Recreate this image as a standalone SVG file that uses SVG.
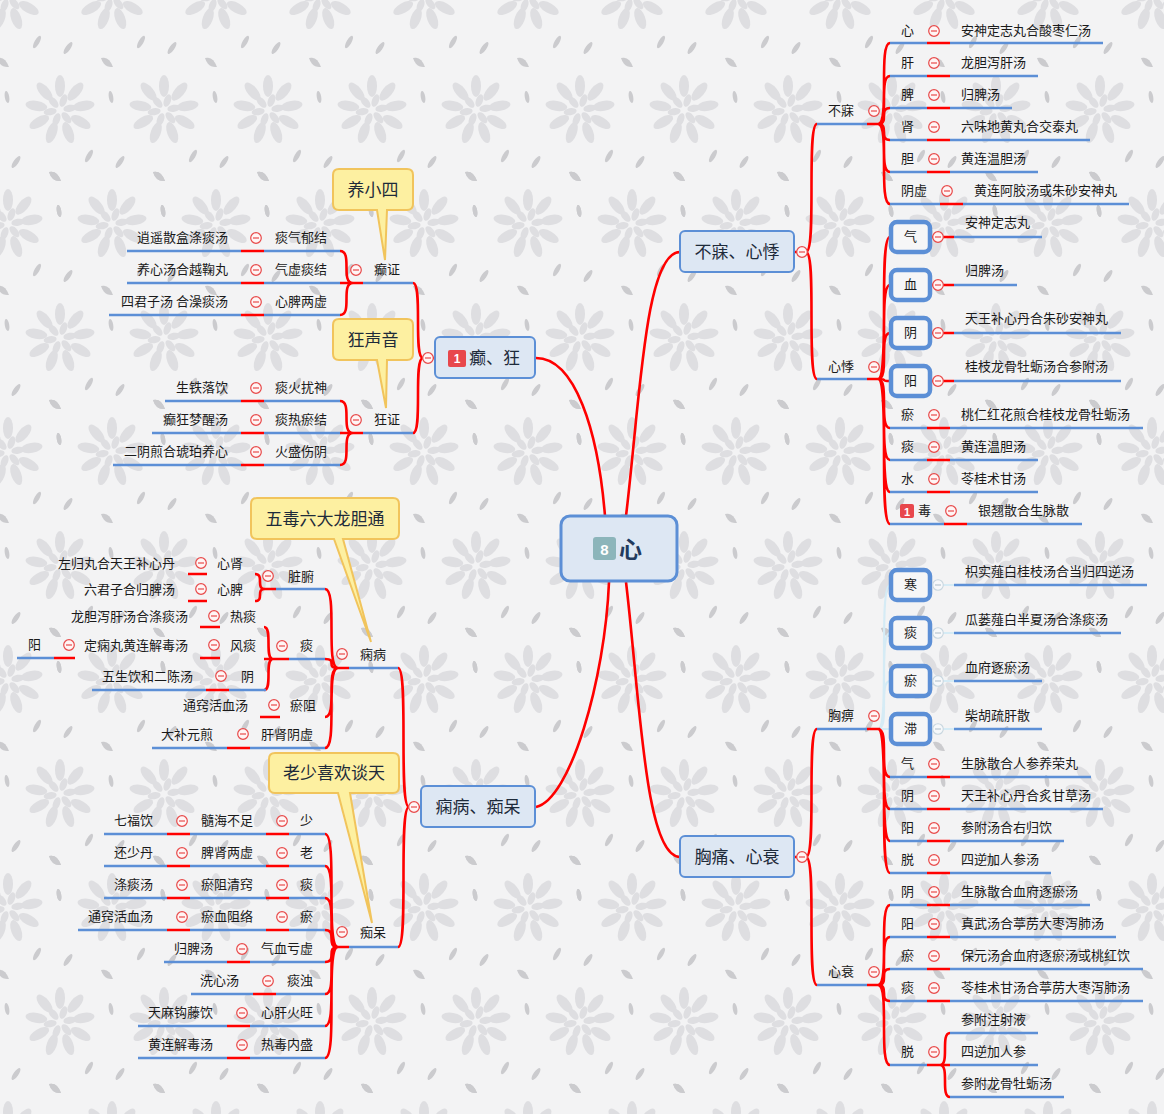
<svg xmlns="http://www.w3.org/2000/svg" width="1164" height="1114" viewBox="0 0 1164 1114">
<defs>
<style>
.t{font-family:"Noto Sans CJK SC","Noto Sans",sans-serif;font-size:13px;fill:#1a1a1a;dominant-baseline:central;transform:translateY(-1.5px)}
.e{text-anchor:end}
.m{text-anchor:middle}
.b{font-size:17px;fill:#1e2b3a}
.u{stroke:#5c8fd6;stroke-width:2.6;fill:none}
.r{stroke:#ff0000;stroke-width:2.6;fill:none}
.p{stroke:#d5ebf5;stroke-width:2.2;fill:none}
.box{fill:#dde7f3;stroke:#5c8fd6;stroke-width:2}
.sq{fill:#f6f6f7;stroke:#5c8fd6;stroke-width:4.5}
.co{fill:#fdf0a1;stroke:#f1c45c;stroke-width:2}
.bd{font-family:"Liberation Sans",sans-serif;font-weight:bold;fill:#fff;text-anchor:middle;dominant-baseline:central}
</style>
<g id="m"><circle r="5.3" fill="#fff5f5" stroke="#e84a4a" stroke-width="1.2"/><line x1="-3" x2="3" stroke="#e84a4a" stroke-width="1.2"/></g>
<g id="mp"><circle r="5.3" fill="#f6f8fa" stroke="#c8d6df" stroke-width="1.1"/><line x1="-3" x2="3" stroke="#b3c2cc" stroke-width="1.1"/></g>
<g id="fl" fill="#dedee1">
<ellipse cx="0" cy="-24" rx="5" ry="11"/>
<ellipse cx="0" cy="-24" rx="5" ry="11" transform="rotate(40)"/>
<ellipse cx="0" cy="-24" rx="5" ry="11" transform="rotate(80)"/>
<ellipse cx="0" cy="-24" rx="5" ry="11" transform="rotate(120)"/>
<ellipse cx="0" cy="-24" rx="5" ry="11" transform="rotate(160)"/>
<ellipse cx="0" cy="-24" rx="5" ry="11" transform="rotate(200)"/>
<ellipse cx="0" cy="-24" rx="5" ry="11" transform="rotate(240)"/>
<ellipse cx="0" cy="-24" rx="5" ry="11" transform="rotate(280)"/>
<ellipse cx="0" cy="-24" rx="5" ry="11" transform="rotate(320)"/>
<ellipse cx="0" cy="-10" rx="3.5" ry="6.5" transform="rotate(20)"/>
<ellipse cx="0" cy="-10" rx="3.5" ry="6.5" transform="rotate(80)"/>
<ellipse cx="0" cy="-10" rx="3.5" ry="6.5" transform="rotate(140)"/>
<ellipse cx="0" cy="-10" rx="3.5" ry="6.5" transform="rotate(200)"/>
<ellipse cx="0" cy="-10" rx="3.5" ry="6.5" transform="rotate(260)"/>
<ellipse cx="0" cy="-10" rx="3.5" ry="6.5" transform="rotate(320)"/>
</g>
<g id="lv" fill="#cbcbce">
<ellipse cx="37" cy="42" rx="2.4" ry="7" transform="rotate(30 37 42)"/>
<ellipse cx="68" cy="48" rx="2.4" ry="7" transform="rotate(35 68 48)"/>
<path d="M-3,58 Q5,56 9,67 Q0,68 -3,58Z"/>
<path d="M101,58 Q109,56 113,67 Q104,68 101,58Z"/>
<ellipse cx="7" cy="97" rx="2.2" ry="6" transform="rotate(-10 7 97)"/>
<ellipse cx="111" cy="97" rx="2.2" ry="6" transform="rotate(-10 111 97)"/>
</g>
<pattern id="bg" width="104" height="228" patternUnits="userSpaceOnUse">
<rect width="104" height="228" fill="#f3f3f4"/>
<use href="#fl" x="60" y="110"/>
<use href="#fl" x="8" y="-4"/><use href="#fl" x="112" y="-4"/>
<use href="#fl" x="8" y="224"/><use href="#fl" x="112" y="224"/>
<use href="#fl" x="-44" y="110"/>
<use href="#lv"/>
<use href="#lv" x="52" y="114"/>
<use href="#lv" x="-52" y="114"/>
</pattern>
</defs>
<rect width="1164" height="1114" fill="url(#bg)"/>

<g id="connectors">
<path class="r" d="M536,358 C575,358 598,430 605,516"/>
<path class="r" d="M626,516 C640,400 645,252 680,252"/>
<path class="r" d="M626,582 C640,700 645,857 680,857"/>
<path class="r" d="M609,582 C605,680 570,800 536,807"/>
<path class="r" d="M794,252 H807 M806,252 C817,252 806,124 817,124 M806,252 C817,252 806,379 817,379"/>
<path class="r" d="M867,124 H880 M878,124 C890,124 878,43 890,43 M878,124 C890,124 878,76 890,76 M878,124 C890,124 878,108 890,108 M878,124 C890,124 878,140 890,140 M878,124 C890,124 878,172 890,172 M878,124 C890,124 878,204 890,204"/>
<path class="r" d="M927,43 H950 M927,76 H950 M927,108 H950 M927,140 H950 M927,172 H950 M940,204 H963"/>
<path class="r" d="M867,379 H880 M878,379 C890,379 878,237 890,237 M878,379 C890,379 878,285 890,285 M878,379 C890,379 878,333 890,333 M878,379 C890,379 878,381 890,381 M878,379 C890,379 878,428 890,428 M878,379 C890,379 878,460 890,460 M878,379 C890,379 878,492 890,492 M878,379 C890,379 878,524 890,524"/>
<path class="r" d="M931,237 H954 M931,285 H954 M931,333 H954 M931,381 H954 M927,428 H950 M927,460 H950 M927,492 H950 M944,524 H967"/>
<path class="r" d="M794,857 H807 M806,857 C817,857 806,729 817,729 M806,857 C817,857 806,985 817,985"/>
<path class="p" d="M878,729 C890,729 878,585 890,585 M878,729 C890,729 878,633 890,633 M878,729 C890,729 878,681 890,681 M878,729 H890 M931,585 H954 M931,633 H954 M931,681 H954 M931,729 H954"/>
<path class="r" d="M867,729 H880 M878,729 C890,729 878,777 890,777 M878,729 C890,729 878,809 890,809 M878,729 C890,729 878,841 890,841 M878,729 C890,729 878,873 890,873"/>
<path class="r" d="M927,777 H950 M927,809 H950 M927,841 H950 M927,873 H950"/>
<path class="r" d="M867,985 H880 M878,985 C890,985 878,905 890,905 M878,985 C890,985 878,937 890,937 M878,985 C890,985 878,969 890,969 M878,985 C890,985 878,1001 890,1001 M878,985 C890,985 878,1065 890,1065"/>
<path class="r" d="M927,905 H950 M927,937 H950 M927,969 H950 M927,1001 H950 M927,1065 H942 M940,1065 C950,1065 940,1033 950,1033 M940,1065 H950 M940,1065 C950,1065 940,1097 950,1097"/>
<path class="r" d="M435,358 H422 M423,358 C413,358 423,283 413,283 M423,358 C413,358 423,433 413,433"/>
<path class="r" d="M363,283 H352 M353,283 C340,283 353,251 340,251 M353,283 H340 M353,283 C340,283 353,315 340,315"/>
<path class="r" d="M363,433 H352 M353,433 C340,433 353,401 340,401 M353,433 H340 M353,433 C340,433 353,465 340,465"/>
<path class="r" d="M264,251 H241 M264,283 H241 M264,315 H241 M264,401 H241 M264,433 H241 M264,465 H241"/>
<path class="r" d="M421,807 H408 M409,807 C398,807 409,668 398,668 M409,807 C398,807 409,947 398,947"/>
<path class="r" d="M349,668 H337 M338,668 C325,668 338,589 325,589 M338,668 C325,668 338,659 325,659 M338,668 C325,668 338,717 325,717 M338,668 C325,668 338,748 325,748"/>
<path class="r" d="M276,589 H264 M265,589 C255,589 265,574 255,574 M265,589 C255,589 265,601 255,601 M207,574 H188 M207,601 H188"/>
<path class="r" d="M289,659 H272 M273,659 C264,659 273,627 264,627 M273,659 H264 M273,659 C264,659 273,690 264,690 M220,627 H200 M220,658 H200 M75,658 H54 M229,690 H206 M280,717 H260 M250,748 H227"/>
<path class="r" d="M349,947 H337 M338,947 C325,947 338,834 325,834 M338,947 C325,947 338,866 325,866 M338,947 C325,947 338,898 325,898 M338,947 C325,947 338,930 325,930 M338,947 C325,947 338,962 325,962 M338,947 C325,947 338,994 325,994 M338,947 C325,947 338,1026 325,1026 M338,947 C325,947 338,1058 325,1058"/>
<path class="r" d="M289,834 H266 M190,834 H167 M289,866 H266 M190,866 H167 M289,898 H266 M190,898 H167 M289,930 H266 M190,930 H167 M250,962 H227 M276,994 H253 M250,1026 H227 M250,1058 H227"/>
</g>

<g id="center">
<rect x="561" y="516" width="116" height="65" rx="9" fill="#dde7f3" stroke="#5c8fd6" stroke-width="3"/>
<rect x="593" y="537" width="23" height="23" rx="3" fill="#8cb5ba"/>
<text class="bd" x="604.5" y="549" font-size="15">8</text>
<text class="t" x="619" y="549" font-weight="bold" style="font-size:23px;fill:#223a5e">心</text>
</g>

<g id="n-bumei-xinji">
<rect class="box" x="680" y="231" width="114" height="41" rx="5"/>
<text class="t b m" x="737" y="252">不寐、心悸</text>
<use href="#m" x="802" y="252"/>
</g>
<g id="n-xiongtong-xinshuai">
<rect class="box" x="680" y="836" width="114" height="41" rx="5"/>
<text class="t b m" x="737" y="857">胸痛、心衰</text>
<use href="#m" x="802" y="857"/>
</g>
<g id="n-diankuang">
<rect class="box" x="435" y="337" width="100" height="41" rx="5"/>
<rect x="448" y="350" width="18" height="17" rx="2" fill="#e8474c"/>
<text class="bd" x="457" y="358.5" font-size="12">1</text>
<text class="t b" x="469" y="358">癫、狂</text>
<use href="#m" x="428" y="358"/>
</g>
<g id="n-xianbing-chidai">
<rect class="box" x="421" y="786" width="114" height="41" rx="5"/>
<text class="t b m" x="478" y="807">痫病、痴呆</text>
<use href="#m" x="414" y="807"/>
</g>

<g id="n-bumei">
<text class="t" x="828" y="111">不寐</text>
<line class="u" x1="817" y1="124" x2="867" y2="124"/>
<use href="#m" x="874" y="111"/>
</g>
<g id="n-bumei-rows">
<text class="t" x="901" y="31">心</text><line class="u" x1="890" y1="43" x2="927" y2="43"/><use href="#m" x="934" y="31"/>
<text class="t" x="961" y="31">安神定志丸合酸枣仁汤</text><line class="u" x1="950" y1="43" x2="1103" y2="43"/>
<text class="t" x="901" y="63">肝</text><line class="u" x1="890" y1="76" x2="927" y2="76"/><use href="#m" x="934" y="63"/>
<text class="t" x="961" y="63">龙胆泻肝汤</text><line class="u" x1="950" y1="76" x2="1038" y2="76"/>
<text class="t" x="901" y="95">脾</text><line class="u" x1="890" y1="108" x2="927" y2="108"/><use href="#m" x="934" y="95"/>
<text class="t" x="961" y="95">归脾汤</text><line class="u" x1="950" y1="108" x2="1012" y2="108"/>
<text class="t" x="901" y="127">肾</text><line class="u" x1="890" y1="140" x2="927" y2="140"/><use href="#m" x="934" y="127"/>
<text class="t" x="961" y="127">六味地黄丸合交泰丸</text><line class="u" x1="950" y1="140" x2="1090" y2="140"/>
<text class="t" x="901" y="159">胆</text><line class="u" x1="890" y1="172" x2="927" y2="172"/><use href="#m" x="934" y="159"/>
<text class="t" x="961" y="159">黄连温胆汤</text><line class="u" x1="950" y1="172" x2="1038" y2="172"/>
<text class="t" x="901" y="191">阴虚</text><line class="u" x1="890" y1="204" x2="940" y2="204"/><use href="#m" x="947" y="191"/>
<text class="t" x="974" y="191">黄连阿胶汤或朱砂安神丸</text><line class="u" x1="963" y1="204" x2="1129" y2="204"/>
</g>

<g id="n-xinji">
<text class="t" x="828" y="367">心悸</text>
<line class="u" x1="817" y1="379" x2="867" y2="379"/>
<use href="#m" x="874" y="367"/>
</g>
<g id="n-xinji-rows">
<rect class="sq" x="891" y="222" width="39" height="30" rx="6"/><text class="t m" x="910.5" y="237">气</text><use href="#m" x="938" y="237"/>
<text class="t" x="965" y="223">安神定志丸</text><line class="u" x1="954" y1="237" x2="1042" y2="237"/>
<rect class="sq" x="891" y="270" width="39" height="30" rx="6"/><text class="t m" x="910.5" y="285">血</text><use href="#m" x="938" y="285"/>
<text class="t" x="965" y="271">归脾汤</text><line class="u" x1="954" y1="285" x2="1017" y2="285"/>
<rect class="sq" x="891" y="318" width="39" height="30" rx="6"/><text class="t m" x="910.5" y="333">阴</text><use href="#m" x="938" y="333"/>
<text class="t" x="965" y="319">天王补心丹合朱砂安神丸</text><line class="u" x1="954" y1="333" x2="1121" y2="333"/>
<rect class="sq" x="891" y="366" width="39" height="30" rx="6"/><text class="t m" x="910.5" y="381">阳</text><use href="#m" x="938" y="381"/>
<text class="t" x="965" y="367">桂枝龙骨牡蛎汤合参附汤</text><line class="u" x1="954" y1="381" x2="1121" y2="381"/>
<text class="t" x="901" y="415">瘀</text><line class="u" x1="890" y1="428" x2="927" y2="428"/><use href="#m" x="934" y="415"/>
<text class="t" x="961" y="415">桃仁红花煎合桂枝龙骨牡蛎汤</text><line class="u" x1="950" y1="428" x2="1143" y2="428"/>
<text class="t" x="901" y="447">痰</text><line class="u" x1="890" y1="460" x2="927" y2="460"/><use href="#m" x="934" y="447"/>
<text class="t" x="961" y="447">黄连温胆汤</text><line class="u" x1="950" y1="460" x2="1038" y2="460"/>
<text class="t" x="901" y="479">水</text><line class="u" x1="890" y1="492" x2="927" y2="492"/><use href="#m" x="934" y="479"/>
<text class="t" x="961" y="479">苓桂术甘汤</text><line class="u" x1="950" y1="492" x2="1038" y2="492"/>
<rect x="900" y="504" width="14" height="14" rx="2" fill="#e8474c"/><text class="bd" x="907" y="511.5" font-size="11">1</text>
<text class="t" x="918" y="511">毒</text><line class="u" x1="890" y1="524" x2="944" y2="524"/><use href="#m" x="951" y="511"/>
<text class="t" x="978" y="511">银翘散合生脉散</text><line class="u" x1="967" y1="524" x2="1082" y2="524"/>
</g>

<g id="n-xiongbi">
<text class="t" x="828" y="716">胸痹</text>
<line class="u" x1="817" y1="729" x2="867" y2="729"/>
<use href="#m" x="874" y="716"/>
</g>
<g id="n-xiongbi-rows">
<rect class="sq" x="891" y="570" width="39" height="30" rx="6"/><text class="t m" x="910.5" y="585">寒</text><use href="#mp" x="938" y="585"/>
<text class="t" x="965" y="572">枳实薤白桂枝汤合当归四逆汤</text><line class="u" x1="954" y1="585" x2="1147" y2="585"/>
<rect class="sq" x="891" y="618" width="39" height="30" rx="6"/><text class="t m" x="910.5" y="633">痰</text><use href="#mp" x="938" y="633"/>
<text class="t" x="965" y="620">瓜蒌薤白半夏汤合涤痰汤</text><line class="u" x1="954" y1="633" x2="1121" y2="633"/>
<rect class="sq" x="891" y="666" width="39" height="30" rx="6"/><text class="t m" x="910.5" y="681">瘀</text><use href="#mp" x="938" y="681"/>
<text class="t" x="965" y="668">血府逐瘀汤</text><line class="u" x1="954" y1="681" x2="1042" y2="681"/>
<rect class="sq" x="891" y="714" width="39" height="30" rx="6"/><text class="t m" x="910.5" y="729">滞</text><use href="#mp" x="938" y="729"/>
<text class="t" x="965" y="716">柴胡疏肝散</text><line class="u" x1="954" y1="729" x2="1042" y2="729"/>
<text class="t" x="901" y="764">气</text><line class="u" x1="890" y1="777" x2="927" y2="777"/><use href="#m" x="934" y="764"/>
<text class="t" x="961" y="764">生脉散合人参养荣丸</text><line class="u" x1="950" y1="777" x2="1091" y2="777"/>
<text class="t" x="901" y="796">阴</text><line class="u" x1="890" y1="809" x2="927" y2="809"/><use href="#m" x="934" y="796"/>
<text class="t" x="961" y="796">天王补心丹合炙甘草汤</text><line class="u" x1="950" y1="809" x2="1103" y2="809"/>
<text class="t" x="901" y="828">阳</text><line class="u" x1="890" y1="841" x2="927" y2="841"/><use href="#m" x="934" y="828"/>
<text class="t" x="961" y="828">参附汤合右归饮</text><line class="u" x1="950" y1="841" x2="1064" y2="841"/>
<text class="t" x="901" y="860">脱</text><line class="u" x1="890" y1="873" x2="927" y2="873"/><use href="#m" x="934" y="860"/>
<text class="t" x="961" y="860">四逆加人参汤</text><line class="u" x1="950" y1="873" x2="1051" y2="873"/>
</g>

<g id="n-xinshuai">
<text class="t" x="828" y="972">心衰</text>
<line class="u" x1="817" y1="985" x2="867" y2="985"/>
<use href="#m" x="874" y="972"/>
</g>
<g id="n-xinshuai-rows">
<text class="t" x="901" y="892">阴</text><line class="u" x1="890" y1="905" x2="927" y2="905"/><use href="#m" x="934" y="892"/>
<text class="t" x="961" y="892">生脉散合血府逐瘀汤</text><line class="u" x1="950" y1="905" x2="1090" y2="905"/>
<text class="t" x="901" y="924">阳</text><line class="u" x1="890" y1="937" x2="927" y2="937"/><use href="#m" x="934" y="924"/>
<text class="t" x="961" y="924">真武汤合葶苈大枣泻肺汤</text><line class="u" x1="950" y1="937" x2="1116" y2="937"/>
<text class="t" x="901" y="956">瘀</text><line class="u" x1="890" y1="969" x2="927" y2="969"/><use href="#m" x="934" y="956"/>
<text class="t" x="961" y="956">保元汤合血府逐瘀汤或桃红饮</text><line class="u" x1="950" y1="969" x2="1143" y2="969"/>
<text class="t" x="901" y="988">痰</text><line class="u" x1="890" y1="1001" x2="927" y2="1001"/><use href="#m" x="934" y="988"/>
<text class="t" x="961" y="988">苓桂术甘汤合葶苈大枣泻肺汤</text><line class="u" x1="950" y1="1001" x2="1143" y2="1001"/>
<text class="t" x="901" y="1052">脱</text><line class="u" x1="890" y1="1065" x2="927" y2="1065"/><use href="#m" x="934" y="1052"/>
<text class="t" x="961" y="1020">参附注射液</text><line class="u" x1="950" y1="1033" x2="1038" y2="1033"/>
<text class="t" x="961" y="1052">四逆加人参</text><line class="u" x1="950" y1="1065" x2="1038" y2="1065"/>
<text class="t" x="961" y="1084">参附龙骨牡蛎汤</text><line class="u" x1="950" y1="1097" x2="1064" y2="1097"/>
</g>

<g id="n-dianzheng">
<text class="t" x="374" y="270">癫证</text>
<line class="u" x1="363" y1="283" x2="413" y2="283"/>
<use href="#m" x="356" y="270"/>
</g>
<g id="n-dianzheng-rows">
<text class="t" x="275" y="238">痰气郁结</text><line class="u" x1="264" y1="251" x2="340" y2="251"/><use href="#m" x="256" y="238"/>
<text class="t e" x="228" y="238">逍遥散盒涤痰汤</text><line class="u" x1="127" y1="251" x2="241" y2="251"/>
<text class="t" x="275" y="270">气虚痰结</text><line class="u" x1="264" y1="283" x2="340" y2="283"/><use href="#m" x="256" y="270"/>
<text class="t e" x="228" y="270">养心汤合越鞠丸</text><line class="u" x1="127" y1="283" x2="241" y2="283"/>
<text class="t" x="275" y="302">心脾两虚</text><line class="u" x1="264" y1="315" x2="340" y2="315"/><use href="#m" x="256" y="302"/>
<text class="t e" x="228" y="302">四君子汤 合澡痰汤</text><line class="u" x1="109" y1="315" x2="241" y2="315"/>
</g>
<g id="n-kuangzheng">
<text class="t" x="374" y="420">狂证</text>
<line class="u" x1="363" y1="433" x2="413" y2="433"/>
<use href="#m" x="356" y="420"/>
</g>
<g id="n-kuangzheng-rows">
<text class="t" x="275" y="388">痰火扰神</text><line class="u" x1="264" y1="401" x2="340" y2="401"/><use href="#m" x="256" y="388"/>
<text class="t e" x="228" y="388">生铁落饮</text><line class="u" x1="165" y1="401" x2="241" y2="401"/>
<text class="t" x="275" y="420">痰热瘀结</text><line class="u" x1="264" y1="433" x2="340" y2="433"/><use href="#m" x="256" y="420"/>
<text class="t e" x="228" y="420">癫狂梦醒汤</text><line class="u" x1="152" y1="433" x2="241" y2="433"/>
<text class="t" x="275" y="452">火盛伤阴</text><line class="u" x1="264" y1="465" x2="340" y2="465"/><use href="#m" x="256" y="452"/>
<text class="t e" x="228" y="452">二阴煎合琥珀养心</text><line class="u" x1="113" y1="465" x2="241" y2="465"/>
</g>

<g id="n-xianbing">
<text class="t" x="360" y="655">痫病</text>
<line class="u" x1="349" y1="668" x2="398" y2="668"/>
<use href="#m" x="342" y="654"/>
</g>
<g id="n-zangfu">
<text class="t" x="288" y="577">脏腑</text><line class="u" x1="276" y1="589" x2="325" y2="589"/><use href="#m" x="268" y="576"/>
<text class="t" x="217" y="564">心肾</text><use href="#m" x="201" y="563"/>
<text class="t e" x="175" y="564">左归丸合天王补心丹</text>
<text class="t" x="217" y="590">心脾</text><use href="#m" x="201" y="589"/>
<text class="t e" x="175" y="590">六君子合归脾汤</text>
</g>
<g id="n-tan">
<text class="t" x="300" y="646">痰</text><line class="u" x1="289" y1="659" x2="325" y2="659"/><use href="#m" x="282" y="646"/>
<text class="t" x="230" y="617">热痰</text><use href="#m" x="214" y="616"/>
<text class="t e" x="188" y="617">龙胆泻肝汤合涤痰汤</text>
<text class="t" x="230" y="646">风痰</text><use href="#m" x="214" y="645"/>
<text class="t e" x="188" y="646">定痫丸黄连解毒汤</text><use href="#m" x="69" y="645"/>
<text class="t" x="28" y="645">阳</text><line class="u" x1="17" y1="658" x2="54" y2="658"/>
<text class="t" x="241" y="677">阴</text><line class="u" x1="229" y1="690" x2="266" y2="690"/><use href="#m" x="221" y="676"/>
<text class="t e" x="193" y="677">五生饮和二陈汤</text><line class="u" x1="92" y1="690" x2="206" y2="690"/>
</g>
<g id="n-yuzu">
<text class="t" x="290" y="706">瘀阻</text><use href="#m" x="274" y="705"/>
<text class="t e" x="248" y="706">通窍活血汤</text>
</g>
<g id="n-ganshen">
<text class="t" x="261" y="735">肝肾阴虚</text><line class="u" x1="250" y1="748" x2="325" y2="748"/><use href="#m" x="243" y="734"/>
<text class="t e" x="213" y="735">大补元煎</text><line class="u" x1="152" y1="748" x2="227" y2="748"/>
</g>

<g id="n-chidai">
<text class="t" x="360" y="933">痴呆</text>
<line class="u" x1="349" y1="947" x2="398" y2="947"/>
<use href="#m" x="342" y="932"/>
</g>
<g id="n-chidai-rows">
<text class="t" x="300" y="821">少</text><line class="u" x1="289" y1="834" x2="325" y2="834"/><use href="#m" x="282" y="821"/>
<text class="t" x="201" y="821">髓海不足</text><line class="u" x1="190" y1="834" x2="266" y2="834"/><use href="#m" x="182" y="821"/>
<text class="t e" x="153" y="821">七福饮</text><line class="u" x1="104" y1="834" x2="167" y2="834"/>
<text class="t" x="300" y="853">老</text><line class="u" x1="289" y1="866" x2="325" y2="866"/><use href="#m" x="282" y="853"/>
<text class="t" x="201" y="853">脾肾两虚</text><line class="u" x1="190" y1="866" x2="266" y2="866"/><use href="#m" x="182" y="853"/>
<text class="t e" x="153" y="853">还少丹</text><line class="u" x1="104" y1="866" x2="167" y2="866"/>
<text class="t" x="300" y="885">痰</text><line class="u" x1="289" y1="898" x2="325" y2="898"/><use href="#m" x="282" y="885"/>
<text class="t" x="201" y="885">瘀阻清窍</text><line class="u" x1="190" y1="898" x2="266" y2="898"/><use href="#m" x="182" y="885"/>
<text class="t e" x="153" y="885">涤痰汤</text><line class="u" x1="104" y1="898" x2="167" y2="898"/>
<text class="t" x="300" y="917">瘀</text><line class="u" x1="289" y1="930" x2="325" y2="930"/><use href="#m" x="282" y="917"/>
<text class="t" x="201" y="917">瘀血阻络</text><line class="u" x1="190" y1="930" x2="266" y2="930"/><use href="#m" x="182" y="917"/>
<text class="t e" x="153" y="917">通窍活血汤</text><line class="u" x1="78" y1="930" x2="167" y2="930"/>
<text class="t" x="261" y="949">气血亏虚</text><line class="u" x1="250" y1="962" x2="325" y2="962"/><use href="#m" x="242" y="949"/>
<text class="t e" x="213" y="949">归脾汤</text><line class="u" x1="164" y1="962" x2="227" y2="962"/>
<text class="t" x="287" y="981">痰浊</text><line class="u" x1="276" y1="994" x2="325" y2="994"/><use href="#m" x="268" y="981"/>
<text class="t e" x="239" y="981">洗心汤</text><line class="u" x1="191" y1="994" x2="253" y2="994"/>
<text class="t" x="261" y="1013">心肝火旺</text><line class="u" x1="250" y1="1026" x2="325" y2="1026"/><use href="#m" x="242" y="1013"/>
<text class="t e" x="213" y="1013">天麻钩藤饮</text><line class="u" x1="138" y1="1026" x2="227" y2="1026"/>
<text class="t" x="261" y="1045">热毒内盛</text><line class="u" x1="250" y1="1058" x2="325" y2="1058"/><use href="#m" x="242" y="1045"/>
<text class="t e" x="213" y="1045">黄连解毒汤</text><line class="u" x1="138" y1="1058" x2="227" y2="1058"/>
</g>

<g id="callout-1">
<path class="co" d="M339,169 H407 Q413,169 413,175 V204 Q413,210 407,210 H387 L385,260 L377,210 H339 Q333,210 333,204 V175 Q333,169 339,169 Z"/>
<text class="t b m" x="373" y="190">养小四</text>
</g>
<g id="callout-2">
<path class="co" d="M339,319 H407 Q413,319 413,325 V354 Q413,360 407,360 H387 L386,408 L377,360 H339 Q333,360 333,354 V325 Q333,319 339,319 Z"/>
<text class="t b m" x="373" y="340">狂声音</text>
</g>
<g id="callout-3">
<path class="co" d="M257,498 H393 Q399,498 399,504 V533 Q399,539 393,539 H343 L371,642 L334,539 H257 Q251,539 251,533 V504 Q251,498 257,498 Z"/>
<text class="t b m" x="325" y="519">五毒六大龙胆通</text>
</g>
<g id="callout-4">
<path class="co" d="M275,753 H393 Q399,753 399,759 V787 Q399,793 393,793 H350 L372,923 L338,793 H275 Q269,793 269,787 V759 Q269,753 275,753 Z"/>
<text class="t b m" x="334" y="773">老少喜欢谈天</text>
</g>
</svg>
